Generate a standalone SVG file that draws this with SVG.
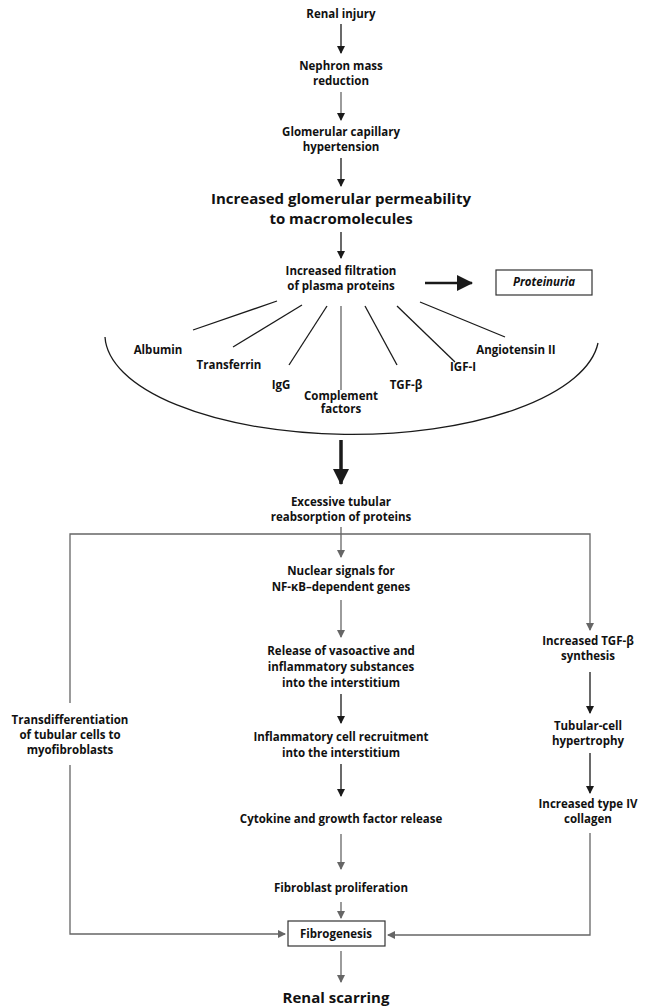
<svg xmlns="http://www.w3.org/2000/svg" width="647" height="1007" viewBox="0 0 647 1007">
<style>
text{font-family:"Open Sans","Liberation Sans",sans-serif;font-weight:bold;fill:#111;text-anchor:middle;font-size:11.5px}
.big{font-size:15px}
.it{font-style:italic}
.k{stroke:#1a1a1a;stroke-width:1.3;fill:none}
.g{stroke:#666;stroke-width:1.3;fill:none}
.box{fill:#fff;stroke:#333;stroke-width:1.2}
</style>
<defs>
<marker id="ak" markerWidth="8" markerHeight="8" refX="7" refY="4" orient="auto" markerUnits="userSpaceOnUse"><path d="M0,0 L8,4 L0,8 Z" fill="#1a1a1a"/></marker>
<marker id="ag" markerWidth="8" markerHeight="8" refX="7" refY="4" orient="auto" markerUnits="userSpaceOnUse"><path d="M0,0 L8,4 L0,8 Z" fill="#666"/></marker>
<marker id="abig" markerWidth="16" markerHeight="16" refX="15" refY="8" orient="auto" markerUnits="userSpaceOnUse"><path d="M0,0 L16,8 L0,16 Z" fill="#1a1a1a"/></marker>
</defs>
<rect width="647" height="1007" fill="#fff"/>
<g id="connectors">
<line class="k" x1="341" y1="24" x2="341" y2="53" marker-end="url(#ak)"/>
<line class="g" x1="341" y1="92" x2="341" y2="120" marker-end="url(#ak)"/>
<line class="k" x1="341" y1="158" x2="341" y2="186" marker-end="url(#ak)"/>
<line class="k" x1="341" y1="232" x2="341" y2="258" marker-end="url(#ak)"/>
<line x1="425" y1="283" x2="472" y2="283" stroke="#1a1a1a" stroke-width="2.5" marker-end="url(#abig)"/>
<line class="k" x1="277" y1="301" x2="193" y2="330"/>
<line class="k" x1="302" y1="305" x2="233" y2="347"/>
<line class="k" x1="327" y1="306" x2="289" y2="365"/>
<line class="g" x1="341" y1="306" x2="341" y2="390"/>
<line class="k" x1="365" y1="306" x2="397" y2="365"/>
<line class="k" x1="397" y1="306" x2="455" y2="362"/>
<line class="k" x1="420" y1="302" x2="505" y2="337"/>
<path class="k" d="M105,337 A247 100 0 0 0 598,343"/>
<line x1="341" y1="440" x2="341" y2="484" stroke="#1a1a1a" stroke-width="3.5" marker-end="url(#abig)"/>
<polyline class="g" points="70,703 70,534 590,534 590,630" marker-end="url(#ag)"/>
<line class="g" x1="341" y1="527" x2="341" y2="557" marker-end="url(#ag)"/>
<line class="g" x1="341" y1="600" x2="341" y2="637" marker-end="url(#ag)"/>
<line class="k" x1="341" y1="694" x2="341" y2="723" marker-end="url(#ak)"/>
<line class="k" x1="341" y1="764" x2="341" y2="796" marker-end="url(#ak)"/>
<line class="g" x1="341" y1="834" x2="341" y2="869" marker-end="url(#ag)"/>
<line class="g" x1="341" y1="902" x2="341" y2="918" marker-end="url(#ag)"/>
<line class="g" x1="341" y1="951" x2="341" y2="982" marker-end="url(#ag)"/>
<polyline class="g" points="70,765 70,934 285,934" marker-end="url(#ag)"/>
<line class="k" x1="590" y1="672" x2="590" y2="713" marker-end="url(#ak)"/>
<line class="k" x1="590" y1="753" x2="590" y2="793" marker-end="url(#ak)"/>
<polyline class="g" points="590,833 590,935 388,935" marker-end="url(#ag)"/>
</g>
<g id="n-renal-injury"><text x="341" y="18">Renal injury</text></g>
<g id="n-nephron"><text x="341" y="70">Nephron mass</text><text x="341" y="85">reduction</text></g>
<g id="n-glom-hyper"><text x="341" y="136">Glomerular capillary</text><text x="341" y="151">hypertension</text></g>
<g id="n-permeability"><text class="big" x="341" y="204">Increased glomerular permeability</text><text class="big" x="341" y="224">to macromolecules</text></g>
<g id="n-filtration"><text x="341" y="275">Increased filtration</text><text x="341" y="290">of plasma proteins</text></g>
<g id="n-proteinuria"><rect class="box" x="496" y="270" width="96" height="25"/><text class="it" x="544" y="286">Proteinuria</text></g>
<g id="n-albumin"><text x="158" y="354">Albumin</text></g>
<g id="n-transferrin"><text x="229" y="369">Transferrin</text></g>
<g id="n-igg"><text x="281" y="389">IgG</text></g>
<g id="n-complement"><text x="341" y="400">Complement</text><text x="341" y="413">factors</text></g>
<g id="n-tgfb"><text x="406" y="389">TGF-β</text></g>
<g id="n-igf"><text x="463" y="371">IGF-I</text></g>
<g id="n-angiotensin"><text x="516" y="354">Angiotensin II</text></g>
<g id="n-excessive"><text x="341" y="506">Excessive tubular</text><text x="341" y="521">reabsorption of proteins</text></g>
<g id="n-nuclear"><text x="341" y="575">Nuclear signals for</text><text x="341" y="591">NF-κB–dependent genes</text></g>
<g id="n-release"><text x="341" y="655">Release of vasoactive and</text><text x="341" y="671">inflammatory substances</text><text x="341" y="687">into the interstitium</text></g>
<g id="n-recruit"><text x="341" y="741">Inflammatory cell recruitment</text><text x="341" y="757">into the interstitium</text></g>
<g id="n-cytokine"><text x="341" y="823">Cytokine and growth factor release</text></g>
<g id="n-fibroblast"><text x="341" y="892">Fibroblast proliferation</text></g>
<g id="n-fibrogenesis"><rect class="box" x="288" y="921" width="97" height="25"/><text x="336" y="938">Fibrogenesis</text></g>
<g id="n-scarring"><text class="big" x="336" y="1003">Renal scarring</text></g>
<g id="n-transdiff"><text x="70" y="724">Transdifferentiation</text><text x="70" y="739">of tubular cells to</text><text x="70" y="754">myofibroblasts</text></g>
<g id="n-tgf-synth"><text x="588" y="645">Increased TGF-β</text><text x="588" y="660">synthesis</text></g>
<g id="n-hypertrophy"><text x="588" y="730">Tubular-cell</text><text x="588" y="745">hypertrophy</text></g>
<g id="n-collagen"><text x="588" y="808">Increased type IV</text><text x="588" y="823">collagen</text></g>
</svg>
